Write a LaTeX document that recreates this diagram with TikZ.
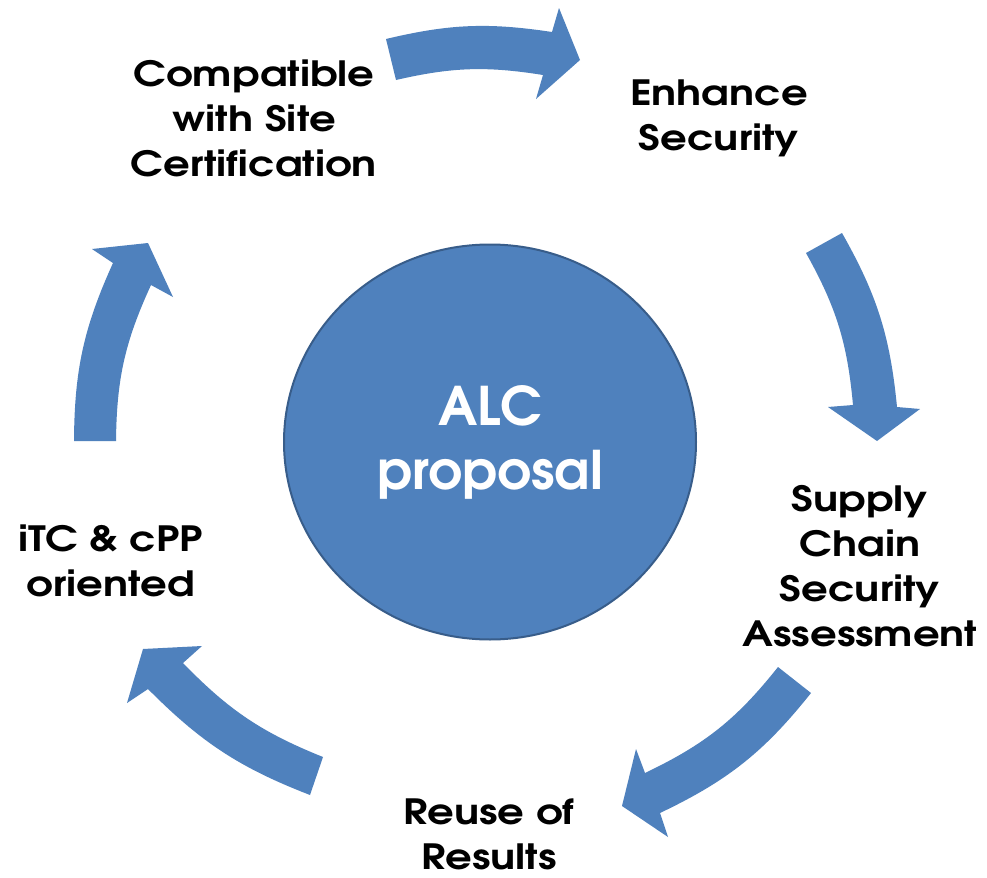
\documentclass[tikz,border=0pt]{standalone}
\usepackage{fontspec}
\setmainfont{texgyreadventor-bold.otf}
\newfontfamily\stagefont{texgyreadventor-bold.otf}[FakeStretch=1.2]
\usetikzlibrary{shapes.geometric}
\definecolor{cyclefill}{HTML}{4F81BD}
\definecolor{cycleedge}{HTML}{385D8A}
\begin{document}
\begin{tikzpicture}[x=0.5pt,y=-0.5pt,
  cyclearrow/.style={fill=cyclefill, draw=none},
  stage/.style={align=center, text=black, inner sep=0pt,
    font=\stagefont\fontsize{17.4}{22.5}\selectfont},
  hub/.style={ellipse, fill=cyclefill, draw=cycleedge, line width=1pt,
    minimum width=206pt, minimum height=197.5pt, inner sep=0pt,
    align=center, text=white, font=\fontsize{26.6}{32}\selectfont}]
\fill[white] (0,0) rectangle (987,878);
\useasboundingbox (0,0) rectangle (987,878);

% central hub
\node[hub] (hub) at (490,442) {ALC\\proposal};

% five curved block arrows around the hub
\fill[cyclearrow] (386,39) to[bend left=11] (552,32) -- (559,8) -- (580,60)
  -- (536,99) -- (543,75) to[bend right=11] (396,80) -- cycle;
\fill[cyclearrow] (842,233) to[bend left=12] (897,407) -- (920,409) -- (877,441)
  -- (828,407) -- (853,405) to[bend right=12] (806,253) -- cycle;
\fill[cyclearrow] (811,693) to[bend left=13] (660,813) -- (668,837) -- (622,806)
  -- (636,749) -- (645,773) to[bend right=13] (778,667) -- cycle;
\fill[cyclearrow] (310,795) to[bend left=12] (148,689) -- (127,703) -- (143,649)
  -- (202,646) -- (183,663) to[bend right=12] (323,757) -- cycle;
\fill[cyclearrow] (74,441) to[bend left=12] (113,263) -- (92,249) -- (148,243)
  -- (173,297) -- (151,285) to[bend right=12] (116,441) -- cycle;

% stage labels
\node[stage] (site)   at (254,118) {Compatible\\with Site\\Certification};
\node[stage] (sec)    at (719,118) {Enhance\\Security};
\node[stage] (supply) at (860,566) {Supply\\Chain\\Security\\Assessment};
\node[stage] (reuse)  at (489,834) {Reuse of\\Results};
\node[stage] (itc)    at (111,561) {iTC \& cPP\\oriented};
\end{tikzpicture}
\end{document}
